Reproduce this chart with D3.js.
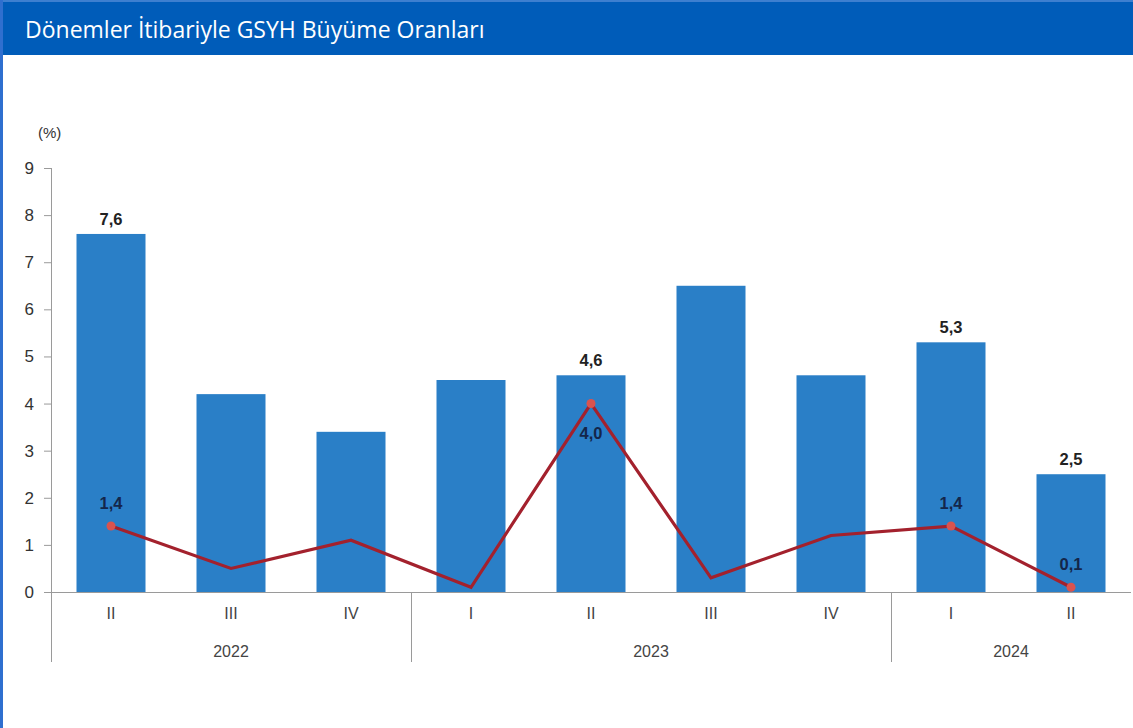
<!DOCTYPE html>
<html>
<head>
<meta charset="utf-8">
<script src="https://cdn.jsdelivr.net/npm/d3@7"></script>
<style>
  body { margin: 0; background: #fff; }
  svg { display: block; }
</style>
</head>
<body>
<div id="chart"></div>
<script>
// data
var quarters = ["II", "III", "IV", "I", "II", "III", "IV", "I", "II"];
var years = ["2022", "2022", "2022", "2023", "2023", "2023", "2023", "2024", "2024"];
var annualGrowth = [7.6, 4.2, 3.4, 4.5, 4.6, 6.5, 4.6, 5.3, 2.5];
var quarterlyGrowth = [1.4, 0.5, 1.1, 0.1, 4.0, 0.3, 1.2, 1.4, 0.1];
var barLabelShown = [true, false, false, false, true, false, false, true, true];
var lineLabelShown = [true, false, false, false, true, false, false, true, true];
var yTicks = [0, 1, 2, 3, 4, 5, 6, 7, 8, 9];

var svgWidth = 1133;
var svgHeight = 728;

var margin = { top: 168, right: 2, bottom: 136, left: 51 };
var width = svgWidth - margin.left - margin.right;
var height = svgHeight - margin.top - margin.bottom;

var svg = d3.select("#chart")
  .append("svg")
  .attr("width", svgWidth)
  .attr("height", svgHeight);

// title bar + frame
svg.append("rect")
  .attr("x", 0).attr("y", 0)
  .attr("width", svgWidth).attr("height", 55)
  .attr("fill", "#005cb9");
svg.append("rect")
  .attr("x", 0).attr("y", 0)
  .attr("width", svgWidth).attr("height", 2)
  .attr("fill", "#3d7fd0");
svg.append("rect")
  .attr("x", 0).attr("y", 0)
  .attr("width", 3).attr("height", svgHeight)
  .attr("fill", "#2f6fcf");

svg.append("text")
  .attr("x", 25)
  .attr("y", 38)
  .attr("font-family", "'Open Sans', sans-serif")
  .attr("font-size", "23px")
  .attr("fill", "#ffffff")
  .text("Dönemler İtibariyle GSYH Büyüme Oranları");

var chartGroup = svg.append("g")
  .attr("transform", `translate(${margin.left}, ${margin.top})`);

var idx = d3.range(quarters.length);

var xScale = d3.scaleBand()
  .domain(idx)
  .range([0, width])
  .paddingInner(0.425)
  .paddingOuter(0.2125);

var yScale = d3.scaleLinear()
  .domain([0, 9])
  .range([height, 0]);

var fontFam = "Arial, 'Liberation Sans', sans-serif";

// y axis
var leftAxis = d3.axisLeft(yScale)
  .tickValues(yTicks)
  .tickSize(7)
  .tickPadding(10)
  .tickFormat(d3.format("d"));

var yAxis = chartGroup.append("g")
  .call(leftAxis);
yAxis.select(".domain").remove();
yAxis.selectAll(".tick line").attr("stroke", "#9a9a9a");
yAxis.selectAll(".tick text")
  .attr("font-family", fontFam)
  .attr("font-size", "17px")
  .attr("fill", "#333");

chartGroup.append("line")
  .attr("x1", 0.5).attr("x2", 0.5)
  .attr("y1", 0).attr("y2", height + 70)
  .attr("stroke", "#9a9a9a");

chartGroup.append("text")
  .attr("x", -13)
  .attr("y", -30)
  .attr("font-family", fontFam)
  .attr("font-size", "15px")
  .attr("fill", "#333")
  .text("(%)");

// bars
chartGroup.selectAll(".bar")
  .data(idx)
  .enter()
  .append("rect")
  .attr("class", "bar")
  .attr("x", i => xScale(i))
  .attr("y", i => yScale(annualGrowth[i]))
  .attr("width", xScale.bandwidth())
  .attr("height", i => height - yScale(annualGrowth[i]))
  .attr("fill", "#2a7fc7");

// x axis
var step = xScale.step();
chartGroup.append("line")
  .attr("x1", -6).attr("x2", width)
  .attr("y1", height + 0.5).attr("y2", height + 0.5)
  .attr("stroke", "#9a9a9a");

var bottomAxis = d3.axisBottom(xScale)
  .tickSize(0)
  .tickPadding(16)
  .tickFormat(i => quarters[i]);

var xAxis = chartGroup.append("g")
  .attr("transform", `translate(0, ${height})`)
  .call(bottomAxis);
xAxis.select(".domain").remove();
xAxis.selectAll(".tick text")
  .attr("font-family", fontFam)
  .attr("font-size", "16px")
  .attr("fill", "#444");

// year groups
var yearGroups = [];
idx.forEach(function(i) {
  var last = yearGroups[yearGroups.length - 1];
  if (last && last.year === years[i]) {
    last.end = i;
  } else {
    yearGroups.push({ year: years[i], start: i, end: i });
  }
});

yearGroups.forEach(function(g, k) {
  var x0 = xScale(g.start) - xScale.paddingOuter() * step;
  var x1 = xScale(g.end) + xScale.bandwidth() + xScale.paddingOuter() * step;
  chartGroup.append("text")
    .attr("x", (x0 + x1) / 2)
    .attr("y", height + 65)
    .attr("text-anchor", "middle")
    .attr("font-family", fontFam)
    .attr("font-size", "16px")
    .attr("fill", "#444")
    .text(g.year);
  if (k > 0) {
    chartGroup.append("line")
      .attr("x1", Math.round(x0) + 0.5).attr("x2", Math.round(x0) + 0.5)
      .attr("y1", height).attr("y2", height + 70)
      .attr("stroke", "#9a9a9a");
  }
});

// bar labels
chartGroup.selectAll(".bar-label")
  .data(idx.filter(i => barLabelShown[i]))
  .enter()
  .append("text")
  .attr("class", "bar-label")
  .attr("x", i => xScale(i) + xScale.bandwidth() / 2)
  .attr("y", i => yScale(annualGrowth[i]) - 9)
  .attr("text-anchor", "middle")
  .attr("font-family", fontFam)
  .attr("font-weight", "bold")
  .attr("font-size", "16.5px")
  .attr("fill", "#222")
  .text(i => d3.format(".1f")(annualGrowth[i]).replace(".", ","));

// line
var line = d3.line()
  .x(i => xScale(i) + xScale.bandwidth() / 2)
  .y(i => yScale(quarterlyGrowth[i]));

chartGroup.append("path")
  .datum(idx)
  .attr("d", line)
  .attr("fill", "none")
  .attr("stroke", "#a3212d")
  .attr("stroke-width", 3.2)
  .attr("stroke-linejoin", "miter");

chartGroup.selectAll(".dot")
  .data(idx.filter(i => lineLabelShown[i]))
  .enter()
  .append("circle")
  .attr("class", "dot")
  .attr("cx", i => xScale(i) + xScale.bandwidth() / 2)
  .attr("cy", i => yScale(quarterlyGrowth[i]))
  .attr("r", 4.5)
  .attr("fill", "#d9534f");

chartGroup.selectAll(".line-label")
  .data(idx.filter(i => lineLabelShown[i]))
  .enter()
  .append("text")
  .attr("class", "line-label")
  .attr("x", i => xScale(i) + xScale.bandwidth() / 2)
  .attr("y", i => quarterlyGrowth[i] > 3 ? yScale(quarterlyGrowth[i]) + 35 : yScale(quarterlyGrowth[i]) - 17)
  .attr("text-anchor", "middle")
  .attr("font-family", fontFam)
  .attr("font-weight", "bold")
  .attr("font-size", "16.5px")
  .attr("fill", "#14264a")
  .text(i => d3.format(".1f")(quarterlyGrowth[i]).replace(".", ","));
</script>
</body>
</html>
